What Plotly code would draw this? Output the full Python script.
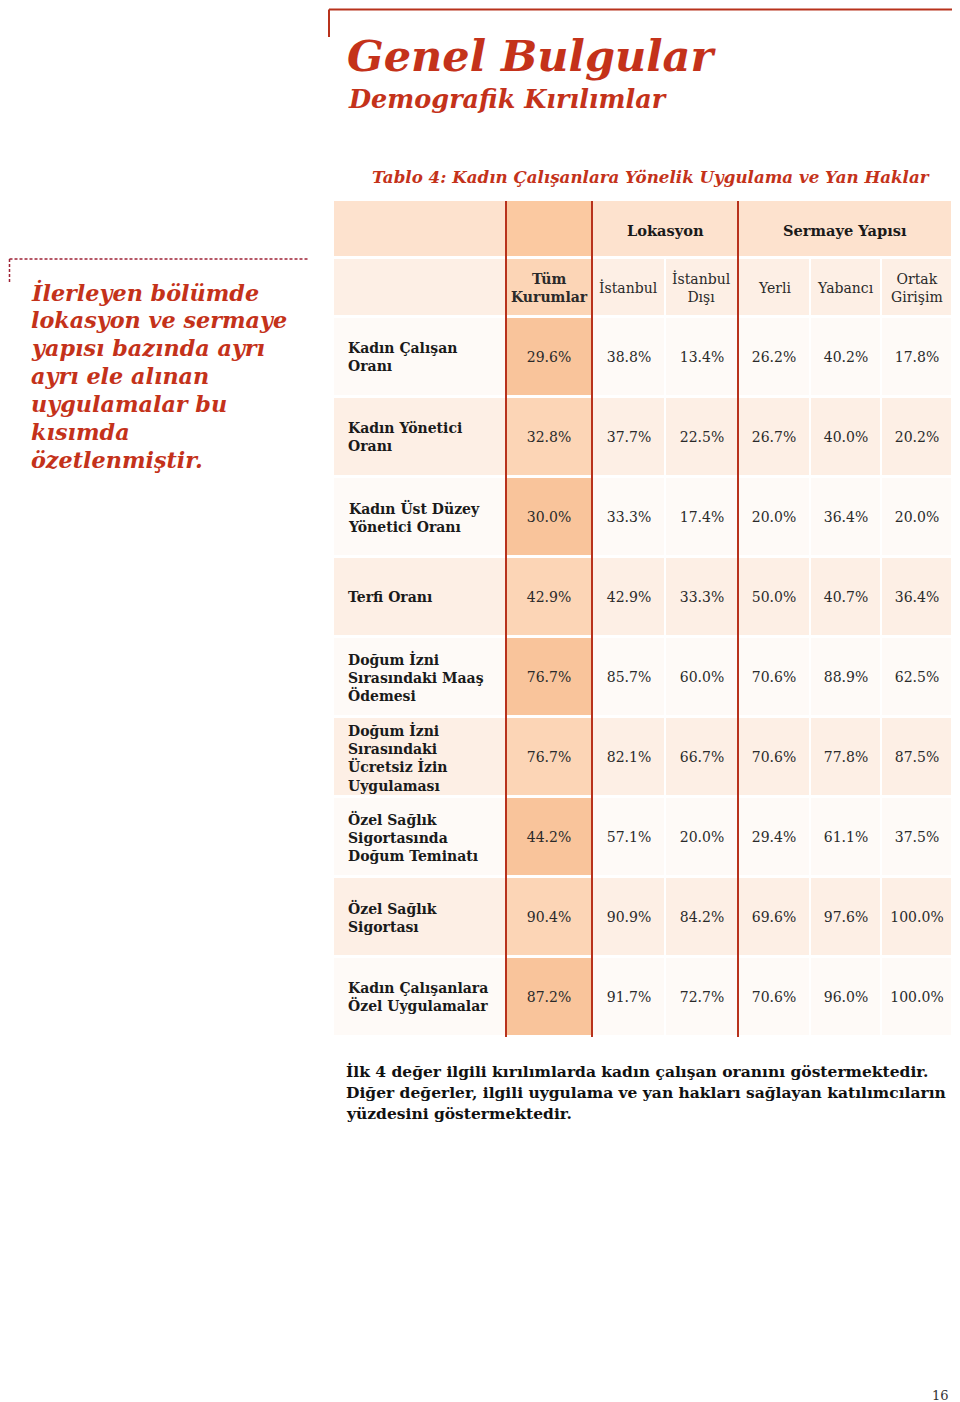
import plotly.graph_objects as go

# ---- data ----
row_labels = [
    "Kadın Çalışan<br>Oranı",
    "Kadın Yönetici<br>Oranı",
    "Kadın Üst Düzey<br>Yönetici Oranı",
    "Terfi Oranı",
    "Doğum İzni<br>Sırasındaki Maaş<br>Ödemesi",
    "Doğum İzni<br>Sırasındaki<br>Ücretsiz İzin<br>Uygulaması",
    "Özel Sağlık<br>Sigortasında<br>Doğum Teminatı",
    "Özel Sağlık<br>Sigortası",
    "Kadın Çalışanlara<br>Özel Uygulamalar",
]
col_labels = ["Tüm<br>Kurumlar", "İstanbul", "İstanbul<br>Dışı", "Yerli", "Yabancı", "Ortak<br>Girişim"]
group_labels = ["Lokasyon", "Sermaye Yapısı"]

tum_kurumlar = [29.6, 32.8, 30.0, 42.9, 76.7, 76.7, 44.2, 90.4, 87.2]
istanbul = [38.8, 37.7, 33.3, 42.9, 85.7, 82.1, 57.1, 90.9, 91.7]
istanbul_disi = [13.4, 22.5, 17.4, 33.3, 60.0, 66.7, 20.0, 84.2, 72.7]
yerli = [26.2, 26.7, 20.0, 50.0, 70.6, 70.6, 29.4, 69.6, 70.6]
yabanci = [40.2, 40.0, 36.4, 40.7, 88.9, 77.8, 61.1, 97.6, 96.0]
ortak_girisim = [17.8, 20.2, 20.0, 36.4, 62.5, 87.5, 37.5, 100.0, 100.0]

side_lines = [
    "İlerleyen bölümde",
    "lokasyon ve sermaye",
    "yapısı bazında ayrı",
    "ayrı ele alınan",
    "uygulamalar bu",
    "kısımda",
    "özetlenmiştir.",
]
note_lines = [
    "İlk 4 değer ilgili kırılımlarda kadın çalışan oranını göstermektedir.",
    "Diğer değerler, ilgili uygulama ve yan hakları sağlayan katılımcıların",
    "yüzdesini göstermektedir.",
]

# ---- style / layout ----
SERIF = "Georgia, 'DejaVu Serif', serif"
RED = "#c4321a"
LINE_RED = "#b8321c"
# cell classes: 0 light row, 1 peach row, 2 Tüm light row, 3 Tüm peach row, 4 header, 5 header Tüm
CELL_COLORS = ["#fefaf7", "#fdefe5", "#f9c49b", "#fcd5b6", "#fde2ce", "#fbc9a1"]

col_edges = [333, 506, 592, 665, 738, 810, 881, 952]
head_edges_x = [333, 506, 592, 738, 952]
head_edges_y = [201, 256]
row_edges = [258, 317] + [317 + 80 * (k + 1) for k in range(len(row_labels))]

# the page body keeps an 8px margin; axes start at 8 so data units equal window pixels
PAGE_OFFSET = 8
PAGE_W, PAGE_H = 960, 1402


def discrete_scale(colors):
    n = len(colors)
    scale = []
    for i, c in enumerate(colors):
        scale.append([i / n, c])
        scale.append([(i + 1) / n, c])
    return scale


columns = [tum_kurumlar, istanbul, istanbul_disi, yerli, yabanci, ortak_girisim]

# body grid: header row (column names) + data rows
z = [[1] + [3] + [1] * 5]
text = [[""] * 7]
for r in range(len(row_labels)):
    base = 0 if r % 2 == 0 else 1
    z.append([base, base + 2] + [base] * 5)
    text.append([""] + [f"{col[r]:.1f}%" for col in columns])

fig = go.Figure()
fig.add_trace(go.Heatmap(
    x=col_edges, y=row_edges, z=z, text=text, texttemplate="%{text}",
    textfont=dict(family=SERIF, size=14, color="#2a2a2a"),
    colorscale=discrete_scale(CELL_COLORS), zmin=-0.5, zmax=5.5,
    xgap=2, ygap=3, showscale=False, hoverinfo="skip",
))
fig.add_trace(go.Heatmap(
    x=head_edges_x, y=head_edges_y, z=[[4, 5, 4, 4]],
    colorscale=discrete_scale(CELL_COLORS), zmin=-0.5, zmax=5.5,
    xgap=2, showscale=False, hoverinfo="skip",
))

annotations = []
# group headers
for i, g in enumerate(group_labels):
    xc = (head_edges_x[i + 2] + head_edges_x[i + 3]) / 2
    annotations.append(dict(x=xc, y=230, text=f"<b>{g}</b>",
                            font=dict(family=SERIF, size=14.6, color="#1a1a1a")))
# column headers
for i, c in enumerate(col_labels):
    xc = (col_edges[i + 1] + col_edges[i + 2]) / 2
    label = f"<b>{c}</b>" if i == 0 else c
    annotations.append(dict(x=xc, y=(row_edges[0] + row_edges[1]) / 2, text=label,
                            font=dict(family=SERIF, size=14, color="#2a2a2a")))
# row labels
for r, lab in enumerate(row_labels):
    yc = (row_edges[r + 1] + row_edges[r + 2]) / 2
    annotations.append(dict(x=346, y=yc, text=f"<b>{lab}</b>", xanchor="left", align="left",
                            font=dict(family=SERIF, size=14, color="#1a1a1a")))

# titles
annotations += [
    dict(x=345, y=56, text="<b><i>Genel Bulgular</i></b>", xanchor="left",
         font=dict(family=SERIF, size=43, color=RED)),
    dict(x=346, y=99, text="<b><i>Demografik Kırılımlar</i></b>", xanchor="left",
         font=dict(family=SERIF, size=25.5, color=RED)),
    dict(x=651, y=177, text="<b><i>Tablo 4: Kadın Çalışanlara Yönelik Uygulama ve Yan Haklar</i></b>",
         font=dict(family=SERIF, size=16.7, color=RED)),
    dict(x=951, y=1395, text="16", xanchor="right", font=dict(family=SERIF, size=13, color="#333333")),
]
for i, line in enumerate(side_lines):
    annotations.append(dict(x=29, y=292 + 28 * i, text=f"<b><i>{line}</i></b>", xanchor="left",
                            font=dict(family=SERIF, size=22.3, color=RED)))
for i, line in enumerate(note_lines):
    annotations.append(dict(x=344, y=1071 + 21 * i, text=f"<b>{line}</b>", xanchor="left",
                            font=dict(family=SERIF, size=15.5, color="#111111")))

for a in annotations:
    a.update(xref="x", yref="y", showarrow=False)
    a.setdefault("yanchor", "middle")

shapes = []
# red column separators
for xe in (col_edges[1], col_edges[2], col_edges[4]):
    shapes.append(dict(type="line", x0=xe, x1=xe, y0=head_edges_y[0], y1=row_edges[-1],
                       line=dict(color=LINE_RED, width=2)))
# top page frame
shapes.append(dict(type="line", x0=329, x1=952, y0=9.5, y1=9.5, line=dict(color=LINE_RED, width=2)))
shapes.append(dict(type="line", x0=329, x1=329, y0=9.5, y1=37, line=dict(color=LINE_RED, width=2)))
# dashed side box
shapes.append(dict(type="line", x0=9.5, x1=308, y0=259, y1=259,
                   line=dict(color="#9e2236", width=1.5, dash="3px,2px")))
shapes.append(dict(type="line", x0=9.5, x1=9.5, y0=259, y1=282,
                   line=dict(color="#9e2236", width=1.5, dash="3px,2px")))
for s in shapes:
    s.update(xref="x", yref="y", layer="above")

fig.update_layout(
    width=PAGE_W - PAGE_OFFSET, height=PAGE_H - PAGE_OFFSET,
    margin=dict(l=0, r=0, t=0, b=0),
    paper_bgcolor="white", plot_bgcolor="white",
    xaxis=dict(range=[PAGE_OFFSET, PAGE_W], visible=False, fixedrange=True),
    yaxis=dict(range=[PAGE_H, PAGE_OFFSET], visible=False, fixedrange=True),
    annotations=annotations, shapes=shapes,
    showlegend=False,
)
fig.write_html("out.html")
